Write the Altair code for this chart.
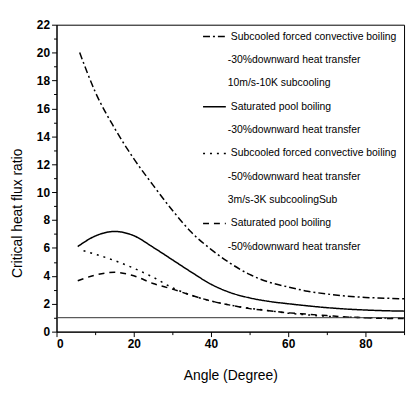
import altair as alt
import pandas as pd

# Series (angle in degrees, critical heat flux ratio)
dd_x = [6, 10, 15, 20, 25, 30, 35, 40, 45, 50, 55, 60, 65, 70, 75, 80, 85, 90]
dd_y = [20.0, 17.2, 14.6, 12.4, 10.5, 8.7, 7.1, 5.9, 4.9, 4.1, 3.55, 3.2, 2.9, 2.7, 2.55, 2.45, 2.4, 2.35]

so_x = [5.5, 10, 15, 20, 25, 30, 35, 40, 45, 50, 55, 60, 65, 70, 75, 80, 85, 90]
so_y = [6.1, 6.85, 7.18, 6.88, 6.05, 5.15, 4.25, 3.4, 2.8, 2.42, 2.17, 2.0, 1.85, 1.72, 1.62, 1.55, 1.5, 1.47]

do_x = [7, 10, 15, 20, 25, 30, 35, 40, 45, 50, 55, 60, 65, 70, 75, 80, 85, 90]
do_y = [5.8, 5.55, 5.1, 4.55, 3.9, 3.15, 2.6, 2.2, 1.9, 1.68, 1.5, 1.32, 1.2, 1.1, 1.05, 1.0, 0.98, 0.95]

da_x = [5.5, 10, 15, 20, 25, 30, 35, 40, 45, 50, 55, 60, 65, 70, 75, 80, 85, 90]
da_y = [3.65, 4.05, 4.25, 4.0, 3.45, 3.05, 2.6, 2.2, 1.9, 1.65, 1.5, 1.35, 1.25, 1.15, 1.05, 1.0, 0.95, 0.95]

series_names = ["sub30", "sat30", "sub50", "sat50"]
series_dash = [[7, 3, 2, 3], [1, 0], [2, 5], [6, 5]]

legend_lines = [
    "Subcooled forced convective boiling",
    "-30%downward heat transfer",
    "10m/s-10K subcooling",
    "Saturated pool boiling",
    "-30%downward heat transfer",
    "Subcooled forced convective boiling",
    "-50%downward heat transfer",
    "3m/s-3K subcoolingSub",
    "Saturated pool boiling",
    "-50%downward heat transfer",
]
legend_series = ["sub30", "", "", "sat30", "", "sub50", "", "", "sat50", ""]

ref_value = [1.0]

W, H = 351, 310
XMAX, YMAX = 90, 22

xs = [dd_x, so_x, do_x, da_x]
ys = [dd_y, so_y, do_y, da_y]
rows = []
for name, xx, yy in zip(series_names, xs, ys):
    for a, b in zip(xx, yy):
        rows.append({"angle": a, "ratio": b, "series": name})
df = pd.DataFrame(rows)

leg = pd.DataFrame({"text": legend_lines, "series": legend_series,
                    "row": list(range(len(legend_lines)))})

FONT = "Liberation Sans"
dash_scale = alt.Scale(domain=series_names, range=series_dash)
xscale = alt.Scale(domain=[0, XMAX], nice=False)
yscale = alt.Scale(domain=[0, YMAX], nice=False)

x_axis = alt.Axis(values=list(range(0, 91, 10)),
                  labelExpr="datum.value % 20 == 0 ? datum.label : ''",
                  labelOverlap=False,
                  tickSize={"condition": {"test": "datum.value % 20 == 0", "value": 5}, "value": 3},
                  title="Angle (Degree)", titleFontSize=14, titleFont=FONT,
                  titleFontWeight="normal", titleY=37,
                  labelFont=FONT, labelFontSize=12, labelFontWeight="bold",
                  grid=False, domainColor="black", tickColor="black",
                  labelColor="black", titleColor="black")
y_axis = alt.Axis(values=list(range(0, 23)),
                  labelExpr="datum.value % 2 == 0 ? datum.label : ''",
                  labelOverlap=False,
                  tickSize={"condition": {"test": "datum.value % 2 == 0", "value": 5}, "value": 3},
                  title="Critical heat flux ratio", titleFontSize=14, titleFont=FONT,
                  titleFontWeight="normal", titleX=-39, titleY=190,
                  titleBaseline="middle",
                  labelFont=FONT, labelFontSize=12, labelFontWeight="bold",
                  grid=False, domainColor="black", tickColor="black",
                  labelColor="black", titleColor="black")

lines = alt.Chart(df).mark_line(color="black", strokeWidth=1.5, interpolate="monotone").encode(
    x=alt.X("angle:Q", scale=xscale, axis=x_axis),
    y=alt.Y("ratio:Q", scale=yscale, axis=y_axis),
    strokeDash=alt.StrokeDash("series:N", scale=dash_scale, legend=None),
    detail="series:N",
)

ref = alt.Chart(pd.DataFrame({"ratio": ref_value})).mark_rule(color="#333333", strokeWidth=1).encode(
    y=alt.Y("ratio:Q", scale=yscale, axis=y_axis), x=alt.value(0), x2=alt.value(W)
)

# legend laid out in rows; pixel offsets converted into data units
row_calc = dict(
    ratio=f"{YMAX} - (12 + datum.row * 23.6) * {YMAX} / {H}",
    angle=f"(datum.series == '' ? 173 : 176) * {XMAX} / {W}",
    a1=f"148 * {XMAX} / {W}",
    a2=f"171 * {XMAX} / {W}",
)

leg_text = alt.Chart(leg).transform_calculate(**row_calc).mark_text(
    align="left", baseline="middle", font=FONT, fontSize=10.5, color="black"
).encode(
    x=alt.X("angle:Q", scale=xscale, axis=x_axis),
    y=alt.Y("ratio:Q", scale=yscale, axis=y_axis), text="text:N"
)

leg_sym = alt.Chart(leg).transform_filter("datum.series != ''").transform_calculate(**row_calc).mark_rule(
    color="black", strokeWidth=1.5
).encode(
    x=alt.X("a1:Q", scale=xscale, axis=x_axis), x2="a2:Q",
    y=alt.Y("ratio:Q", scale=yscale, axis=y_axis),
    strokeDash=alt.StrokeDash("series:N", scale=dash_scale, legend=None),
)

chart = alt.layer(lines, ref, leg_sym, leg_text).properties(
    width=W, height=H,
    autosize=alt.AutoSizeParams(type="none"),
    padding={"left": 49, "top": 15, "right": 5, "bottom": 50},
    background="white",
).configure_view(stroke="black", strokeWidth=1).configure_axis(labelOverlap=False)

chart.save("out.html", embed_options={"renderer": "svg", "actions": False})
